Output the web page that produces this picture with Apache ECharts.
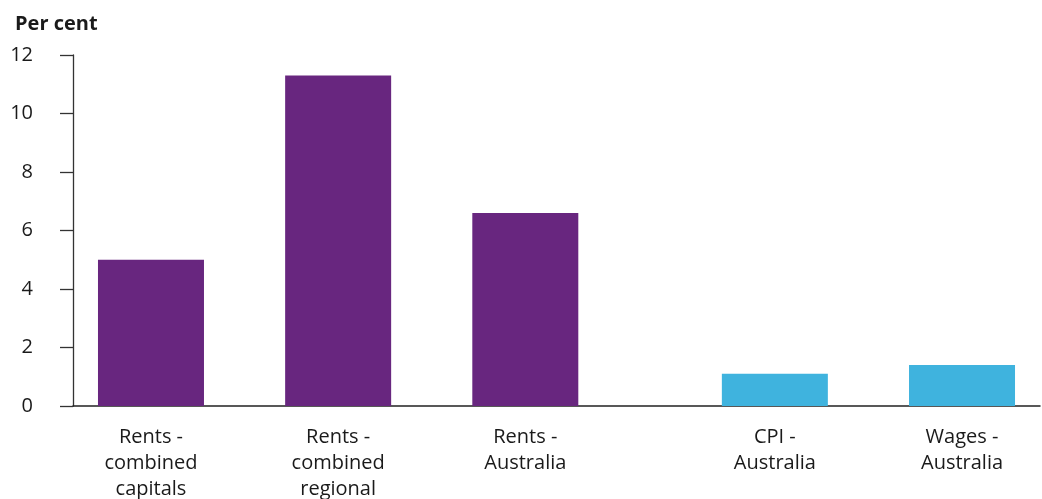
<!DOCTYPE html>
<html>
<head>
<meta charset="utf-8">
<script src="https://cdn.jsdelivr.net/npm/echarts@6/dist/echarts.min.js"></script>
<style>
html,body{margin:0;padding:0;background:#fff;}
#chart{width:1042px;height:499px;}
</style>
</head>
<body>
<div id="chart"></div>
<script>
// ---- data ----
const categories = [
  'Rents -\ncombined\ncapitals',
  'Rents -\ncombined\nregional',
  'Rents -\nAustralia',
  'CPI -\nAustralia',
  'Wages -\nAustralia'
];
const values = [5.0, 11.3, 6.6, 1.1, 1.4];
const groupOf = [0, 0, 0, 1, 1]; // 0 = rents, 1 = prices/wages
const yTicks = [0, 2, 4, 6, 8, 10, 12];

// ---- layout (slot grid so that the two groups are separated by a gap) ----
const leadSlots = 2, slotsPerCat = 6, groupGapSlots = 2, totalSlots = 31;
const slotLabels = new Array(totalSlots).fill('');
const slotData = new Array(totalSlots).fill(null);
const colors = ['#68267F', '#3FB3DE'];
categories.forEach((c, i) => {
  const idx = leadSlots + i * slotsPerCat + groupOf[i] * groupGapSlots;
  slotLabels[idx] = c;
  slotData[idx] = { value: values[i], itemStyle: { color: colors[groupOf[i]] } };
});

const chart = echarts.init(document.getElementById('chart'), null, { renderer: 'canvas' });
const font = '"Open Sans", "Noto Sans", sans-serif';
chart.setOption({
  animation: false,
  textStyle: { fontFamily: font },
  title: {
    text: 'Per cent',
    left: 10, top: 9,
    textStyle: { fontFamily: font, fontSize: 20, fontWeight: 'bold', color: '#1a1a1a' }
  },
  grid: { left: 73, right: 2, top: 55, bottom: 93, containLabel: false, outerBoundsMode: 'none' },
  xAxis: {
    type: 'category',
    data: slotLabels,
    axisLine: { show: true, lineStyle: { color: '#222', width: 1.5 } },
    axisTick: { show: false },
    axisLabel: {
      interval: 0, margin: 18, color: '#1a1a1a', fontSize: 20,
      lineHeight: 26, fontFamily: font, align: 'center'
    }
  },
  yAxis: {
    type: 'value',
    min: yTicks[0], max: yTicks[yTicks.length - 1], interval: 2,
    axisLine: { show: true, lineStyle: { color: '#333', width: 1.3 } },
    axisTick: { show: true, length: 13, lineStyle: { color: '#333', width: 1.3 } },
    axisLabel: { margin: 40, color: '#1a1a1a', fontSize: 20, fontFamily: font },
    splitLine: { show: false }
  },
  series: [{
    type: 'bar',
    data: slotData,
    barWidth: 106,
    barGap: '-100%'
  }]
});
</script>
</body>
</html>
